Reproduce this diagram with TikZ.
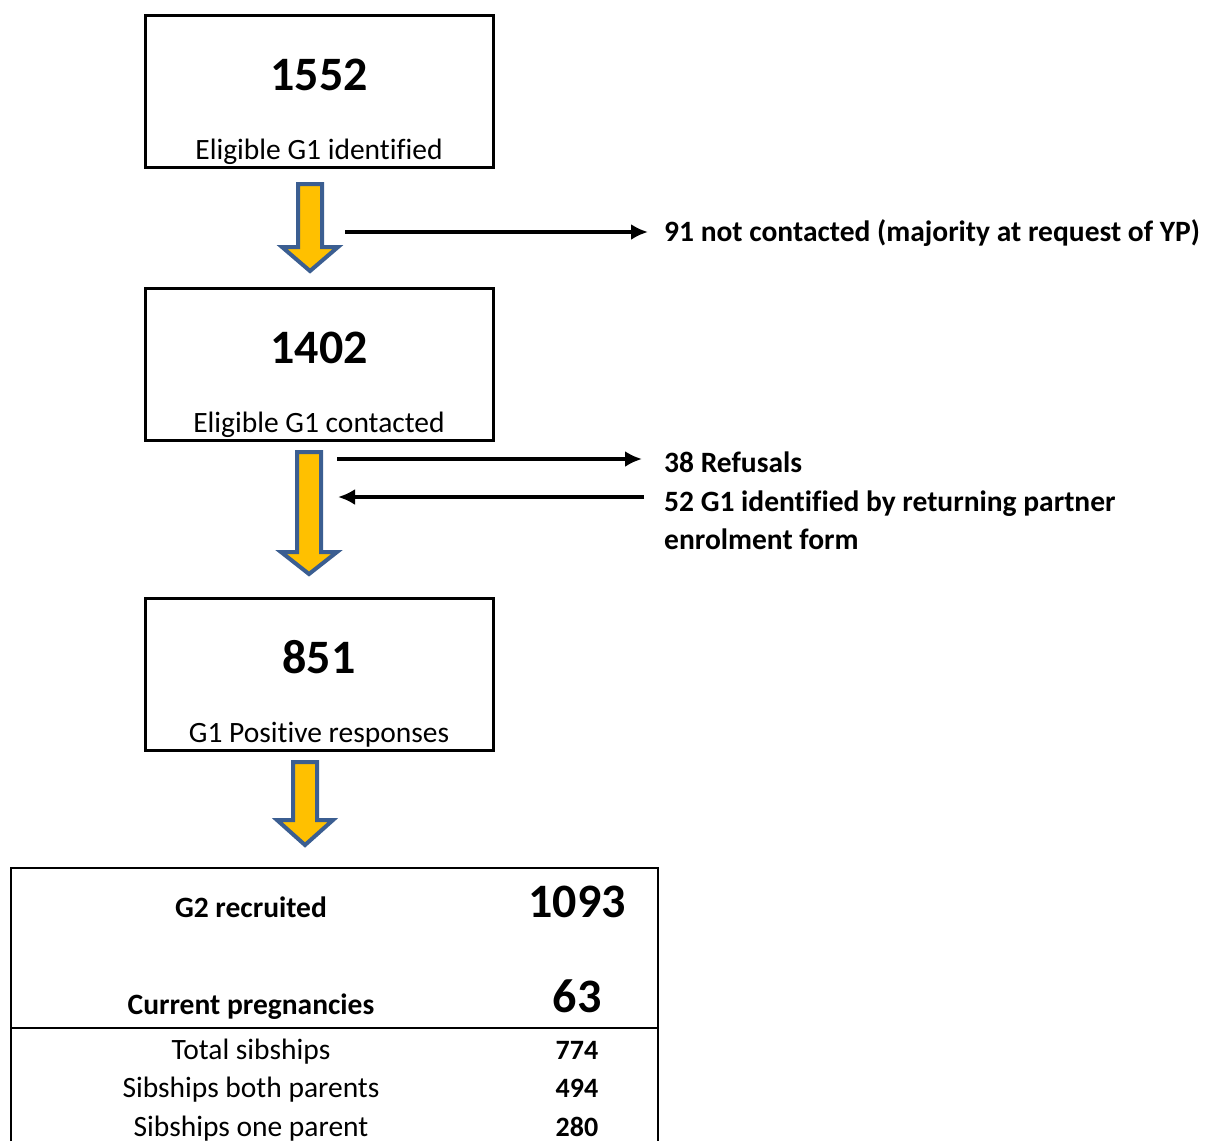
\documentclass[tikz,border=0pt]{standalone}
\usepackage{fontspec}
\setmainfont{Carlito}[Ligatures=NoCommon]
\usepackage{tikz}
\usetikzlibrary{calc,arrows.meta,positioning}
\definecolor{arrfill}{RGB}{255,192,0}
\definecolor{arrline}{RGB}{59,94,145}
\tikzstyle{box}=[draw,line width=3pt,minimum width=348pt,minimum height=152pt,inner sep=0pt]
\tikzstyle{bignum}=[anchor=base,font=\fontsize{48}{56}\selectfont\bfseries,inner sep=0pt]
\tikzstyle{boxlabel}=[anchor=base,font=\fontsize{29.5}{35}\selectfont,inner sep=0pt]
\tikzstyle{boldlabel}=[anchor=base,font=\fontsize{29.5}{35}\selectfont\bfseries,inner sep=0pt]
\tikzstyle{smallnum}=[anchor=base,font=\fontsize{28}{33}\selectfont\bfseries,inner sep=0pt]
\tikzstyle{sidetext}=[anchor=base west,font=\fontsize{29.5}{35}\selectfont\bfseries,inner sep=0pt]
\tikzstyle{thinarr}=[line width=4pt,-{Latex[length=17pt,width=16pt]}]
\tikzstyle{blk}=[fill=arrfill,draw=arrline,line width=4pt,line join=miter]
\newcommand{\blkarrow}[4]{\draw[blk] ({#1-12},#2) -- ({#1+12},#2) -- ({#1+12},#3) -- ({#1+28},#3) -- (#1,#4) -- ({#1-28},#3) -- ({#1-12},#3) -- cycle;}

\begin{document}
\begin{tikzpicture}[x=1pt,y=-1pt]
        \useasboundingbox (0,0) rectangle (1205,1141);
        \node[box] (elig) at (319,91) {};
        \node[bignum] (n1552) at (319,90) {1552};
        \node[boxlabel] (l1552) at (319,159) {Eligible G1 identified};
        \node[box] (cont) at (319,364.5) {};
        \node[bignum] (n1402) at (319,363) {1402};
        \node[boxlabel] (l1402) at (319,432) {Eligible G1 contacted};
        \node[box] (pos) at (319,674) {};
        \node[bignum] (n851) at (319,673) {851};
        \node[boxlabel] (l851) at (319,742) {G1 Positive responses};
        \blkarrow{310}{184}{247}{271}
        \blkarrow{309}{452}{552}{574}
        \blkarrow{305}{762}{820}{845}
        \node[sidetext] (notcont) at (664,241) {91 not contacted (majority at request of YP)};
        \node[sidetext] (refus) at (664,472) {38 Refusals};
        \node[sidetext] (partner) at (664,511) {52 G1 identified by returning partner};
        \node[sidetext] (partner2) at (664,549) {enrolment form};
        \coordinate (s1) at (345,232);
        \coordinate (s2) at (337,459);
        \coordinate (s3) at (338,497);
        \draw[thinarr,shorten >=16pt] (s1) -- (s1 -| notcont.west);
        \draw[thinarr,shorten >=22pt] (s2) -- (s2 -| refus.west);
        \draw[thinarr,shorten <=20pt] (s3 -| partner.west) -- (s3);
        \draw[line width=2pt] (11,1141) -- (11,868) -- (658,868) -- (658,1141);
        \draw[line width=2pt] (11,1028) -- (658,1028);
        \node[boldlabel] (g2) at (251,917) {G2 recruited};
        \node[bignum] (n1093) at (577,917) {1093};
        \node[boldlabel] (preg) at (251,1014) {Current pregnancies};
        \node[bignum] (n63) at (577,1012) {63};
        \node[boxlabel] (tot) at (251,1059) {Total sibships};
        \node[smallnum] (n774) at (577,1059) {774};
        \node[boxlabel] (both) at (251,1097) {Sibships both parents};
        \node[smallnum] (n494) at (577,1097) {494};
        \node[boxlabel] (one) at (251,1136) {Sibships one parent};
        \node[smallnum] (n280) at (577,1136) {280};
      \end{tikzpicture}
\end{document}
